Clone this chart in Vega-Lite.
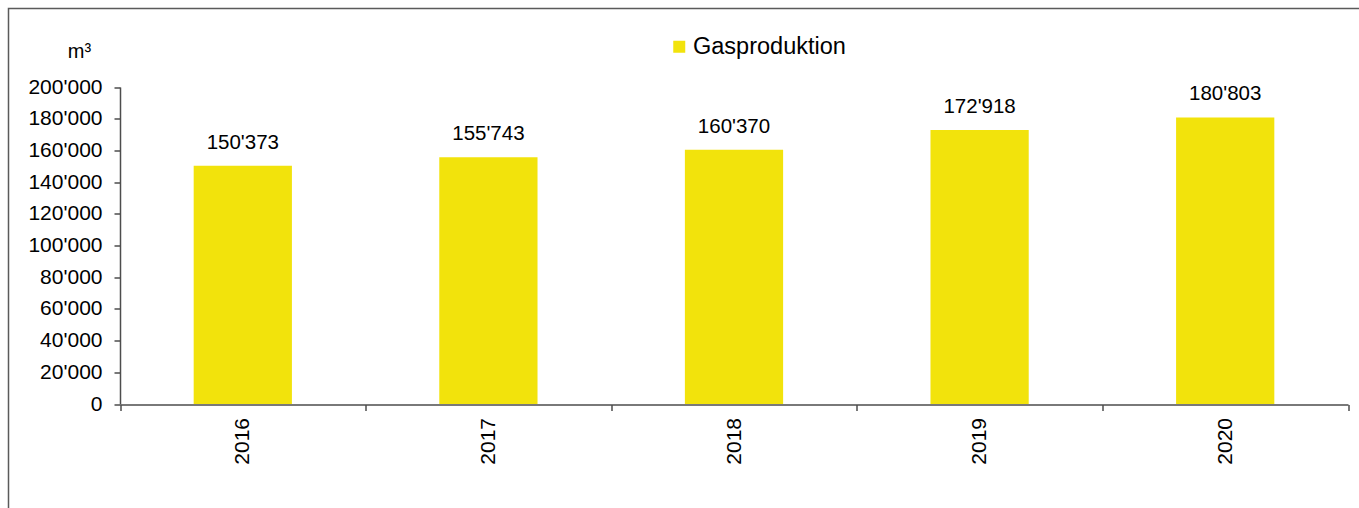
{
  "$schema": "https://vega.github.io/schema/vega-lite/v6.json",
  "autosize": "none",
  "width": 1370,
  "height": 520,
  "padding": {"left": 8.5, "top": 8.5, "right": -19.5, "bottom": -20.5},
  "background": "white",
  "config": {
    "locale": {"number": {"decimal": ".", "thousands": "'", "grouping": [3], "currency": ["", ""]}},
    "font": "Liberation Sans",
    "view": {"stroke": "#5a5a5a", "strokeWidth": 1.5},
    "axis": {
      "grid": false,
      "domainColor": "#4d4d4d",
      "domainWidth": 1.5,
      "tickColor": "#4d4d4d",
      "tickWidth": 1.5,
      "tickSize": 6,
      "labelColor": "#000000",
      "labelFont": "Liberation Sans",
      "labelFontSize": 21,
      "titleFont": "Liberation Sans",
      "titleColor": "#000000"
    }
  },
  "data": {
    "values": [
      {"year": "2016", "value": 150373, "series": "Gasproduktion"},
      {"year": "2017", "value": 155743, "series": "Gasproduktion"},
      {"year": "2018", "value": 160370, "series": "Gasproduktion"},
      {"year": "2019", "value": 172918, "series": "Gasproduktion"},
      {"year": "2020", "value": 180803, "series": "Gasproduktion"}
    ]
  },
  "encoding": {
    "x": {
      "field": "year",
      "type": "nominal",
      "sort": null,
      "scale": {"range": [111.5, 1339.5], "paddingInner": 0, "paddingOuter": 0},
      "axis": {
        "title": null,
        "offset": -124,
        "labelAngle": -90,
        "labelAlign": "right",
        "labelBaseline": "middle",
        "labelPadding": 7,
        "tickBand": "extent"
      }
    },
    "y": {
      "field": "value",
      "type": "quantitative",
      "scale": {"domain": [0, 200000], "range": [395.5, 78.5], "nice": false, "zero": true},
      "axis": {
        "title": "m³",
        "titleAngle": 0,
        "titleAlign": "center",
        "titleBaseline": "alphabetic",
        "titleX": -41,
        "titleY": 49,
        "titleFontSize": 20,
        "titleFontWeight": "normal",
        "offset": -111.5,
        "values": [0, 20000, 40000, 60000, 80000, 100000, 120000, 140000, 160000, 180000, 200000],
        "format": ",d",
        "labelPadding": 12
      }
    }
  },
  "layer": [
    {
      "mark": {"type": "bar", "width": {"band": 0.4}},
      "encoding": {
        "color": {
          "field": "series",
          "type": "nominal",
          "scale": {"range": ["#F2E30C"]},
          "legend": {
            "title": null,
            "orient": "none",
            "legendX": 659,
            "legendY": 26.5,
            "symbolType": "square",
            "symbolSize": 144,
            "symbolStrokeWidth": 0,
            "symbolOpacity": 1,
            "labelFont": "Liberation Sans",
            "labelFontSize": 23.5,
            "labelColor": "#000000",
            "labelOffset": 2,
            "padding": 0
          }
        }
      }
    },
    {
      "mark": {"type": "text", "dy": -17, "baseline": "alphabetic", "fontSize": 20.5, "color": "#000000", "font": "Liberation Sans"},
      "encoding": {
        "text": {"field": "value", "type": "quantitative", "format": ",d"}
      }
    }
  ]
}
